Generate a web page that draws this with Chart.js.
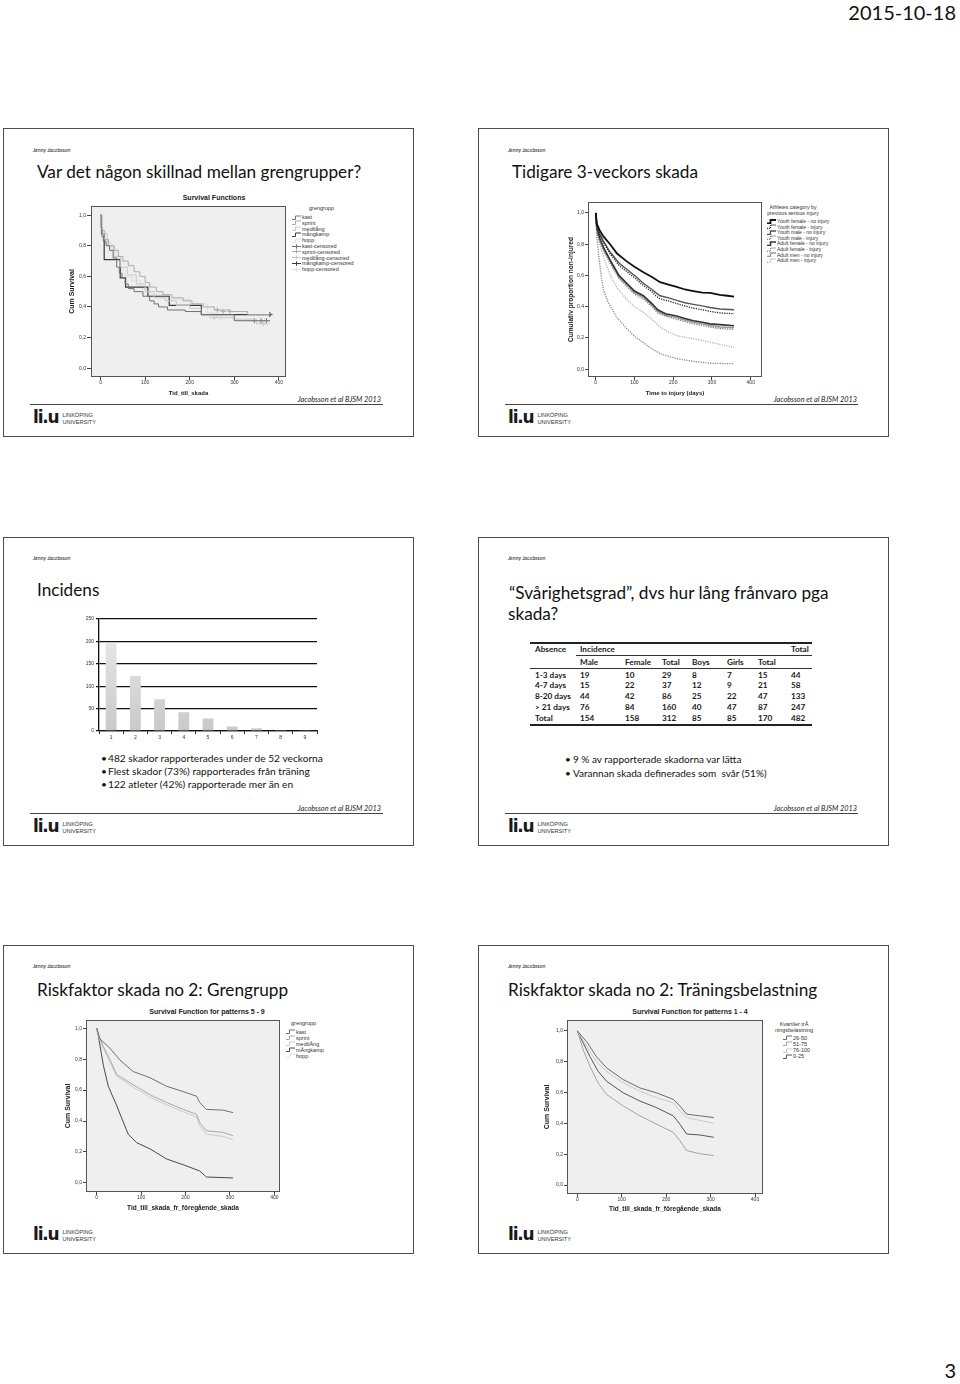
<!DOCTYPE html>
<html>
<head>
<meta charset="utf-8">
<script src="https://cdn.jsdelivr.net/npm/chart.js@4.4.0/dist/chart.umd.min.js"></script>
<style>
body{margin:0;background:#fff;}
#page{position:relative;width:960px;height:1384px;overflow:hidden;font-family:Lato,'Open Sans',sans-serif;color:#111;}
.slide{position:absolute;width:411px;height:309px;box-sizing:border-box;border:1.5px solid #4d4d4d;}
.t{position:absolute;white-space:pre;}
canvas{position:absolute;}
</style>
</head>
<body>
<div id="page"></div>
<script>
// ---------- data ----------
const survTicksX = [0, 100, 200, 300, 400];
const survTicksY = [0, 0.2, 0.4, 0.6, 0.8, 1.0];

// slide 1: Survival Functions, grengrupp
const grenGroups = ['kast', 'sprint', 'medtlång', 'mångkamp', 'hopp'];
const grenColors = ['#707070', '#ababab', '#c9c9c9', '#3a3a3a', '#dedede'];
const s1KastX = [0,1,3,6,12,20,28,36,42,48,55,62,75,95,110,120,130,150,190,226,300,380];
const s1KastY = [1,0.92,0.86,0.83,0.80,0.77,0.72,0.66,0.62,0.59,0.55,0.52,0.50,0.47,0.44,0.42,0.40,0.38,0.37,0.35,0.31,0.31];
const s1SprintX = [0,2,8,18,30,40,50,62,75,88,100,110,125,140,160,185,205,230,255,290,330,380];
const s1SprintY = [1,0.90,0.84,0.80,0.77,0.73,0.70,0.67,0.63,0.60,0.56,0.53,0.50,0.48,0.46,0.44,0.42,0.40,0.38,0.37,0.35,0.35];
const s1MedtX = [0,3,15,30,45,60,80,100,120,145,170,200,225,245,300,350,380];
const s1MedtY = [1,0.88,0.80,0.73,0.66,0.61,0.55,0.50,0.46,0.44,0.41,0.39,0.35,0.33,0.32,0.29,0.29];
const s1MangX = [0,2,8,44,56,106,154,226,380];
const s1MangY = [1,0.88,0.71,0.59,0.53,0.47,0.41,0.35,0.35];
const s1HoppX = [0,2,10,25,35,45,55,70,90,110,150,200,240,260,300,380];
const s1HoppY = [1,0.90,0.82,0.77,0.72,0.64,0.60,0.57,0.52,0.48,0.45,0.42,0.36,0.33,0.31,0.31];
const s1KastCX = [345,360,372],   s1KastCY = [0.31,0.31,0.31];
const s1SprintCX = [262,275,290], s1SprintCY = [0.38,0.37,0.37];
const s1MedtCX = [255,365],       s1MedtCY = [0.33,0.29];
const s1MangCX = [380],           s1MangCY = [0.35];
const s1HoppCX = [270,368],       s1HoppCY = [0.33,0.31];

// slide 2: athletes category by previous serious injury
const athLabels = ['Youth female - no injury','Youth female - injury','Youth male - no injury','Youth male - injury',
  'Adult female - no injury','Adult female - injury','Adult men - no injury','Adult men - injury'];
const athColors = ['#111111','#222222','#555555','#777777','#333333','#858585','#9a9a9a','#b0b0b0'];
const athWidths = [1.8,1.3,1.4,1.3,1.6,1.3,1.4,1.3];
const s2TimesYF = [0,3,10,20,37,55,80,100,123,145,166,190,209,230,252,275,295,320,340,357];
const s2YfNo = [1,0.93,0.89,0.85,0.80,0.74,0.69,0.655,0.62,0.59,0.557,0.54,0.527,0.51,0.50,0.49,0.488,0.475,0.47,0.464];
const s2TimesA = [0,3,10,20,37,60,80,105,123,145,155,166,190,209,230,252,275,295,320,357];
const s2YfInj = [1,0.91,0.86,0.81,0.74,0.665,0.625,0.575,0.535,0.495,0.47,0.45,0.435,0.42,0.405,0.39,0.38,0.37,0.36,0.355];
const s2YmNo = [1,0.92,0.87,0.82,0.75,0.68,0.64,0.59,0.55,0.51,0.49,0.47,0.455,0.44,0.425,0.415,0.405,0.395,0.385,0.38];
const s2TimesB = [0,3,10,20,37,60,80,100,123,145,160,180,209,230,252,275,295,320,357];
const s2YmInj = [1,0.88,0.82,0.76,0.68,0.58,0.53,0.48,0.45,0.40,0.36,0.34,0.32,0.305,0.29,0.28,0.27,0.26,0.255];
const s2AfNo = [1,0.90,0.84,0.78,0.70,0.60,0.55,0.50,0.47,0.42,0.38,0.355,0.34,0.325,0.31,0.30,0.29,0.285,0.278];
const s2AmNo = [1,0.89,0.83,0.77,0.69,0.59,0.54,0.49,0.46,0.41,0.37,0.345,0.33,0.315,0.30,0.29,0.28,0.27,0.265];
const s2TimesAmInj = [0,3,10,20,37,55,80,100,123,145,166,190,209,252,295,330,357];
const s2AmInj = [1,0.90,0.80,0.72,0.605,0.52,0.447,0.40,0.363,0.32,0.27,0.235,0.215,0.195,0.173,0.155,0.14];
const s2TimesAfInj = [0,3,8,15,20,30,37,55,80,100,123,145,166,190,209,252,295,357];
const s2AfInj = [1,0.85,0.72,0.58,0.51,0.44,0.405,0.33,0.26,0.21,0.17,0.13,0.10,0.08,0.068,0.05,0.038,0.035];

// slide 3: Incidens
const barLabels = ['1','2','3','4','5','6','7','8','9'];
const barValues = [196, 123, 71, 42, 28, 10, 6, 2, 1];
const barTicksY = [0, 50, 100, 150, 200, 250];

// slide 4: table
const tabHead1 = ['Absence', 'Incidence', '', '', '', '', '', 'Total'];
const tabHead2 = ['', 'Male', 'Female', 'Total', 'Boys', 'Girls', 'Total', ''];
const tabRows = [
  ['1-3 days', 19, 10, 29, 8, 7, 15, 44],
  ['4-7 days', 15, 22, 37, 12, 9, 21, 58],
  ['8-20 days', 44, 42, 86, 25, 22, 47, 133],
  ['> 21 days', 76, 84, 160, 40, 47, 87, 247],
  ['Total', 154, 158, 312, 85, 85, 170, 482]
];

// slide 5: patterns 5 - 9, grengrupp
const s5KastX = [0,7.5,30,52,82,120,157,195,225,232,247,285,307];
const s5KastY = [1,0.93,0.87,0.795,0.72,0.68,0.625,0.59,0.56,0.52,0.475,0.47,0.454];
const s5SprintX = [0,5,15,30,45,82,120,157,195,225,232,247,285,307];
const s5SprintY = [1,0.95,0.88,0.795,0.70,0.635,0.57,0.52,0.475,0.443,0.39,0.337,0.326,0.305];
const s5MedtX = [0,5,15,30,45,82,120,157,195,225,232,247,285,307];
const s5MedtY = [1,0.94,0.87,0.78,0.69,0.62,0.555,0.505,0.46,0.425,0.37,0.315,0.30,0.28];
const s5MangX = [0,4,15,26,45,56,71,90,120,157,195,232,247,307];
const s5MangY = [1,0.945,0.76,0.625,0.50,0.42,0.315,0.26,0.22,0.155,0.117,0.077,0.038,0.032];
const s5Groups = ['kast', 'sprint', 'medtlÅng', 'mÅngkamp', 'hopp'];
const s5Colors = ['#6f6f6f', '#a9a9a9', '#cbcbcb', '#4a4a4a', '#e5e5e5'];

// slide 6: patterns 1 - 4, kvartiler
const kvLabels = ['26-50', '51-75', '76-100', '0-25'];
const kvColors = ['#6a6a6a', '#a5a5a5', '#cacaca', '#555555'];
const s6X = [0,21,43,66,103.5,141,178.5,216,231,246,276,307];
const s6Q2 = [1,0.93,0.833,0.76,0.684,0.63,0.598,0.556,0.513,0.46,0.449,0.438];
const s6Q4 = [1,0.90,0.80,0.737,0.662,0.609,0.566,0.534,0.48,0.438,0.42,0.40];
const s6XB = [0,13.5,28.5,47,66,103.5,141,178.5,216,231,246,276,307];
const s6Q1 = [1,0.92,0.833,0.737,0.673,0.598,0.545,0.502,0.449,0.395,0.331,0.325,0.31];
const s6Q3 = [1,0.876,0.77,0.662,0.588,0.513,0.449,0.395,0.342,0.288,0.224,0.203,0.192];

// ---------- helpers ----------
const F = "'Liberation Sans', Arial, sans-serif";
const page = document.getElementById('page');

function put(x, cy, text, fs, css, align) {
  const d = document.createElement('div');
  d.className = 't';
  d.textContent = text;
  d.style.fontSize = fs + 'px';
  d.style.lineHeight = (fs * 1.2) + 'px';
  d.style.top = (cy - fs * 0.6) + 'px';
  if (align === 'right') d.style.right = (960 - x) + 'px';
  else if (align === 'center') { d.style.left = x + 'px'; d.style.transform = 'translateX(-50%)'; }
  else d.style.left = x + 'px';
  Object.assign(d.style, css || {});
  page.appendChild(d);
  return d;
}
function hline(x1, x2, y, w, color) {
  const d = document.createElement('div');
  d.style.cssText = `position:absolute;left:${x1}px;top:${y}px;width:${x2 - x1}px;height:${w}px;background:${color || '#333'}`;
  page.appendChild(d);
}
function slide(x, y) {
  const d = document.createElement('div');
  d.className = 'slide';
  d.style.left = x + 'px'; d.style.top = y + 'px';
  page.appendChild(d);
}
function logo(x, y) {
  const d = document.createElement('div');
  d.className = 't';
  d.style.left = x + 'px'; d.style.top = y + 'px';
  d.innerHTML = '<span style="font:900 17px \'DejaVu Sans\';letter-spacing:-1.2px;color:#1a1a1a;vertical-align:top;line-height:17px">li.u</span>' +
    '<span style="display:inline-block;margin-left:4px;margin-top:3px;font:5.6px \'Liberation Sans\';line-height:6.5px;color:#333;vertical-align:top">LINKÖPING<br>UNIVERSITY</span>';
  page.appendChild(d);
}
function icon(st) {
  const dash = st.dash ? 'stroke-dasharray="1 1"' : '';
  const p = st.cross ? 'M0 2.5H9M4.5 0.3V4.7' : 'M0 4.5H3.5V1H9';
  return `<svg width="9" height="5" style="display:block"><path d="${p}" stroke="${st.color}" stroke-width="${st.width || 1}" fill="none" ${dash}/></svg>`;
}
function legend(x, cy0, step, labels, styles, fs) {
  labels.forEach((lab, i) => {
    const d = document.createElement('div');
    d.className = 't';
    d.style.cssText += `left:${x}px;top:${cy0 + i * step - 3}px;height:6px;display:flex;align-items:center;`;
    d.innerHTML = icon(styles[i]);
    const s = document.createElement('span');
    s.textContent = lab;
    s.style.cssText = `font:${fs}px ${F};color:#333;margin-left:1px;line-height:6px`;
    d.appendChild(s);
    page.appendChild(d);
  });
}

// chart area background and frame
const framePlugin = {
  id: 'frame',
  beforeDraw(chart, args, opts) {
    const a = chart.chartArea, c = chart.ctx;
    c.save(); c.fillStyle = opts.bg || '#fff';
    c.fillRect(a.left, a.top, a.right - a.left, a.bottom - a.top); c.restore();
  },
  afterDraw(chart, args, opts) {
    const a = chart.chartArea, c = chart.ctx;
    c.save(); c.strokeStyle = '#555'; c.lineWidth = 1;
    c.strokeRect(a.left + 0.5, a.top + 0.5, a.right - a.left - 1, a.bottom - a.top - 1); c.restore();
  }
};

function series(label, xs, ys, color, width, dash, stepped) {
  return { label, data: xs.map((x, i) => ({ x, y: ys[i] })), borderColor: color, borderWidth: width,
    borderDash: dash || [], pointRadius: 0, stepped: !!stepped, fill: false, tension: 0 };
}
function censored(label, xs, ys, color) {
  return { label, data: xs.map((x, i) => ({ x, y: ys[i] })), showLine: false, pointStyle: 'cross',
    pointRadius: 2.5, borderColor: color, borderWidth: 1, pointBorderWidth: 1 };
}

function survChart(box, datasets, ax) {
  const cv = document.createElement('canvas');
  cv.width = box.w; cv.height = box.h;
  cv.style.left = box.x + 'px'; cv.style.top = box.y + 'px';
  page.appendChild(cv);
  new Chart(cv, {
    type: 'line',
    data: { datasets },
    plugins: [framePlugin],
    options: {
      responsive: false, animation: false, events: [],
      layout: { padding: { top: ax.padTop, right: ax.padRight, left: 0, bottom: 0 } },
      plugins: { legend: { display: false }, tooltip: { enabled: false }, frame: { bg: ax.bg } },
      scales: {
        x: {
          type: 'linear', min: ax.xmin, max: ax.xmax,
          afterBuildTicks: s => { s.ticks = survTicksX.map(v => ({ value: v })); },
          afterFit: s => { s.height = ax.xH; },
          grid: { drawOnChartArea: false, tickLength: 3, color: '#444' },
          border: { display: false },
          ticks: { font: { family: F, size: 5 }, color: '#333', padding: 0, maxRotation: 0 },
          title: { display: true, text: ax.xTitle, color: '#222', font: { family: F, size: ax.xts, weight: 'bold' }, padding: { top: 0, bottom: 0 } }
        },
        y: {
          min: ax.ymin, max: ax.ymax,
          afterBuildTicks: s => { s.ticks = survTicksY.map(v => ({ value: v })); },
          afterFit: s => { s.width = ax.yW; },
          grid: { drawOnChartArea: false, tickLength: ax.tickLen, color: '#444' },
          border: { display: false },
          ticks: { font: { family: F, size: 5 }, color: '#333', padding: 1, callback: v => v.toFixed(1).replace('.', ',') },
          title: { display: true, text: ax.yTitle, color: '#222', font: { family: F, size: ax.yts, weight: 'bold' }, padding: { top: ax.yTitlePad, bottom: 0 } }
        }
      }
    }
  });
}

// ---------- page frame ----------
put(956, 12, '2015-10-18', 20, {}, 'right');
put(956, 1370, '3', 20, {}, 'right');
[[3, 128], [478, 128], [3, 537], [478, 537], [3, 945], [478, 945]].forEach(p => slide(p[0], p[1]));

const small = { fontStyle: 'italic', color: '#222' };
put(33, 150, 'Jenny Jacobsson', 5.5, small);
put(508, 150, 'Jenny Jacobsson', 5.5, small);
put(33, 558, 'Jenny Jacobsson', 5.5, small);
put(508, 558, 'Jenny Jacobsson', 5.5, small);
put(33, 966, 'Jenny Jacobsson', 5.5, small);
put(508, 966, 'Jenny Jacobsson', 5.5, small);

put(37, 172, 'Var det någon skillnad mellan grengrupper?', 17.2);
put(512, 172, 'Tidigare 3-veckors skada', 17.2);
put(37, 590, 'Incidens', 17.2);
put(509, 593, '“Svårighetsgrad”, dvs hur lång frånvaro pga', 17.2);
put(508, 614, 'skada?', 17.2);
put(37, 990, 'Riskfaktor skada no 2: Grengrupp', 17.2);
put(508, 990, 'Riskfaktor skada no 2: Träningsbelastning', 17.2);

const cite = { fontStyle: 'italic', color: '#222' };
put(381, 400, 'Jacobsson et al BJSM 2013', 7.3, cite, 'right');
put(857, 400, 'Jacobsson et al BJSM 2013', 7.3, cite, 'right');
put(381, 809, 'Jacobsson et al BJSM 2013', 7.3, cite, 'right');
put(857, 809, 'Jacobsson et al BJSM 2013', 7.3, cite, 'right');
hline(30, 383, 404, 1, '#444');
hline(505, 858, 404, 1, '#444');
hline(30, 383, 813, 1, '#444');
hline(505, 858, 813, 1, '#444');
logo(33, 409); logo(508, 409); logo(33, 818); logo(508, 818); logo(33, 1226); logo(508, 1226);

// ---------- slide 1 ----------
put(214, 198, 'Survival Functions', 7, { fontFamily: F, fontWeight: 'bold', color: '#222' }, 'center');
const s1Sets = [
  series('kast', s1KastX, s1KastY, grenColors[0], 1, null, true),
  series('sprint', s1SprintX, s1SprintY, grenColors[1], 1, null, true),
  series('medtlång', s1MedtX, s1MedtY, grenColors[2], 1, null, true),
  series('mångkamp', s1MangX, s1MangY, grenColors[3], 1.2, null, true),
  series('hopp', s1HoppX, s1HoppY, grenColors[4], 1, null, true),
  censored('kast-censored', s1KastCX, s1KastCY, grenColors[0]),
  censored('sprint-censored', s1SprintCX, s1SprintCY, grenColors[1]),
  censored('medtlång-censored', s1MedtCX, s1MedtCY, grenColors[2]),
  censored('mångkamp-censored', s1MangCX, s1MangCY, grenColors[3]),
  censored('hopp-censored', s1HoppCX, s1HoppCY, grenColors[4])
];
survChart({ x: 62, y: 201, w: 229, h: 196 }, s1Sets,
  { xmin: -21.6, xmax: 416, ymin: -0.058, ymax: 1.06, yW: 29, xH: 20, padTop: 2, padRight: 3, tickLen: 4,
    bg: '#efefef', xTitle: 'Tid_till_skada', yTitle: 'Cum Survival', xts: 6, yts: 7, yTitlePad: 6 });
put(309, 208, 'grengrupp', 5.5, { fontFamily: F, color: '#333' });
legend(292, 217, 5.8, s1Sets.map(d => d.label),
  s1Sets.map((d, i) => ({ color: d.borderColor, width: 1, cross: i >= 5 })), 5.5);

// ---------- slide 2 ----------
const s2Series = [
  [s2TimesYF, s2YfNo], [s2TimesA, s2YfInj], [s2TimesA, s2YmNo], [s2TimesB, s2YmInj],
  [s2TimesB, s2AfNo], [s2TimesAfInj, s2AfInj], [s2TimesB, s2AmNo], [s2TimesAmInj, s2AmInj]
];
const s2Sets = s2Series.map((p, i) => series(athLabels[i], p[0], p[1], athColors[i], athWidths[i], i % 2 ? [1.2, 1.2] : null, false));
survChart({ x: 555, y: 198, w: 209, h: 199 }, s2Sets,
  { xmin: -19.9, xmax: 429, ymin: -0.05, ymax: 1.07, yW: 33, xH: 20, padTop: 2, padRight: 2, tickLen: 3,
    bg: '#ffffff', xTitle: 'Time to injury (days)', yTitle: 'Cumulativ proportion non-injured', xts: 6, yts: 6.6, yTitlePad: 12 });
put(793, 207, 'Athletes category by', 5.2, { fontFamily: F, color: '#333' }, 'center');
put(793, 213, 'previous serious injury', 5.2, { fontFamily: F, color: '#333' }, 'center');
legend(767, 221, 5.6, athLabels, athColors.map((c, i) => ({ color: c, width: athWidths[i], dash: i % 2 === 1 })), 5);

// ---------- slide 3 ----------
const barCv = document.createElement('canvas');
barCv.width = 249; barCv.height = 131;
barCv.style.left = '70px'; barCv.style.top = '614px';
page.appendChild(barCv);
new Chart(barCv, {
  type: 'bar',
  data: { labels: barLabels, datasets: [{ data: barValues, barPercentage: 0.45, categoryPercentage: 1,
    backgroundColor: ctx => {
      const a = ctx.chart.chartArea;
      if (!a) return '#d8d8d8';
      const g = ctx.chart.ctx.createLinearGradient(0, a.top, 0, a.bottom);
      g.addColorStop(0, '#ececec'); g.addColorStop(1, '#c9c9c9');
      return g;
    } }] },
  options: {
    responsive: false, animation: false, events: [],
    layout: { padding: { top: 5, right: 2, left: 0, bottom: 0 } },
    plugins: { legend: { display: false }, tooltip: { enabled: false } },
    scales: {
      x: { grid: { offset: true, drawOnChartArea: false, tickLength: 3, color: '#333' },
        border: { color: '#111', width: 1.3 },
        ticks: { font: { family: F, size: 5 }, color: '#333', padding: 1 },
        afterFit: s => { s.height = 14; } },
      y: { min: 0, max: 250,
        afterBuildTicks: s => { s.ticks = barTicksY.map(v => ({ value: v })); },
        grid: { color: '#111', lineWidth: 1.3, tickLength: 3 },
        border: { color: '#111', width: 1.3 },
        ticks: { font: { family: F, size: 5 }, color: '#333', padding: 2 },
        afterFit: s => { s.width = 29; } }
    }
  }
});
put(101, 758, '•', 10.2); put(108, 758, '482 skador rapporterades under de 52 veckorna', 10.2);
put(101, 771, '•', 10.2); put(108, 771, 'Flest skador (73%) rapporterades från träning', 10.2);
put(101, 784, '•', 10.2); put(108, 784, '122 atleter (42%) rapporterade mer än en', 10.2);

// ---------- slide 4 ----------
const colX = [535, 580, 625, 662, 692, 727, 758, 791];
const rowY = [676, 685.5, 697, 707.5, 718.5];
const cell = { fontWeight: 'bold', color: '#1a1a1a' };
tabHead1.forEach((h, j) => { if (h) put(colX[j], 650, h, 8.2, cell); });
tabHead2.forEach((h, j) => { if (h) put(colX[j], 662.5, h, 8.2, cell); });
tabRows.forEach((r, i) => r.forEach((v, j) => put(colX[j], rowY[i], String(v), 8.2, cell)));
hline(530, 812, 642, 2, '#222');
hline(576, 812, 655, 1, '#333');
hline(530, 812, 668, 1, '#333');
hline(530, 812, 724, 2, '#222');
put(565, 759, '•', 10); put(573, 759, '9 % av rapporterade skadorna var lätta', 10);
put(565, 773, '•', 10); put(573, 773, 'Varannan skada definerades som  svår (51%)', 10);

// ---------- slide 5 ----------
put(207, 1012, 'Survival Function for patterns 5 - 9', 7, { fontFamily: F, fontWeight: 'bold', color: '#222' }, 'center');
const s5Sets = [
  series(s5Groups[0], s5KastX, s5KastY, s5Colors[0], 1, null, false),
  series(s5Groups[1], s5SprintX, s5SprintY, s5Colors[1], 1, null, false),
  series(s5Groups[2], s5MedtX, s5MedtY, s5Colors[2], 1, null, false),
  series(s5Groups[3], s5MangX, s5MangY, s5Colors[3], 1, null, false),
  series(s5Groups[4], [], [], s5Colors[4], 1, null, false)
];
survChart({ x: 52, y: 1016, w: 230, h: 196 }, s5Sets,
  { xmin: -24.1, xmax: 412.8, ymin: -0.059, ymax: 1.053, yW: 34, xH: 20, padTop: 2, padRight: 2, tickLen: 3,
    bg: '#efefef', xTitle: 'Tid_till_skada_fr_föregående_skada', yTitle: 'Cum Survival', xts: 6.5, yts: 7, yTitlePad: 11.8 });
put(291, 1023, 'grengrupp', 5.5, { fontFamily: F, color: '#333' });
legend(286, 1031.5, 6, s5Groups, s5Colors.map(c => ({ color: c, width: 1 })), 5.5);

// ---------- slide 6 ----------
put(690, 1012, 'Survival Function for patterns 1 - 4', 7, { fontFamily: F, fontWeight: 'bold', color: '#222' }, 'center');
const s6Sets = [
  series(kvLabels[0], s6X, s6Q2, kvColors[0], 1, null, false),
  series(kvLabels[1], s6XB, s6Q3, kvColors[1], 1, null, false),
  series(kvLabels[2], s6X, s6Q4, kvColors[2], 1, null, false),
  series(kvLabels[3], s6XB, s6Q1, kvColors[3], 1, null, false)
];
survChart({ x: 533, y: 1016, w: 232, h: 197 }, s6Sets,
  { xmin: -23.2, xmax: 418, ymin: -0.0577, ymax: 1.0705, yW: 34, xH: 19, padTop: 2, padRight: 2, tickLen: 3,
    bg: '#efefef', xTitle: 'Tid_till_skada_fr_föregående_skada', yTitle: 'Cum Survival', xts: 6.5, yts: 7, yTitlePad: 9.8 });
put(794, 1024, 'Kvartiler trÅ', 5.5, { fontFamily: F, color: '#333' }, 'center');
put(794, 1030, 'ningsbelastning', 5.5, { fontFamily: F, color: '#333' }, 'center');
legend(783, 1037.5, 6.3, kvLabels, kvColors.map(c => ({ color: c, width: 1 })), 5.5);
</script>
</body>
</html>
